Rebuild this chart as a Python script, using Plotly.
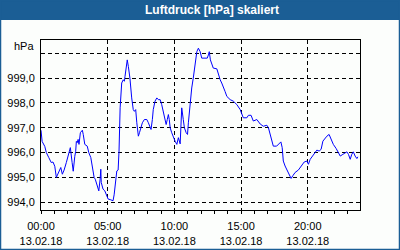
import pandas as pd
import plotly.graph_objects as go

# minutes after midnight on 13.02.18
minutes = [0, 5, 17, 24, 35, 46, 54, 62, 69, 80, 89, 96, 104, 114, 125, 132, 140, 145, 152, 156,
           159, 163, 167, 171, 177, 186, 190, 197, 208, 215, 224, 230, 239, 244, 253, 260, 266, 269,
           271, 279, 287, 294, 302, 314, 324, 329, 334, 341, 347, 351, 356, 360, 363, 370, 375, 378,
           383, 388, 393, 400, 408, 415, 420, 426, 431, 438, 443, 449, 456, 465, 476, 483, 491, 495,
           501, 505, 513, 521, 528, 536, 543, 550, 558, 563, 568, 573, 577, 581, 588, 595, 603, 611,
           618, 626, 633, 640, 645, 653, 659, 663, 671, 678, 685, 693, 701, 708, 716, 723, 738, 748,
           753, 757, 762, 768, 775, 791, 798, 806, 813, 820, 828, 836, 843, 851, 865, 881, 896, 903,
           910, 926, 933, 945, 955, 971, 986, 1000, 1016, 1023, 1031, 1038, 1045, 1060, 1072, 1079,
           1085, 1090, 1098, 1106, 1113, 1125, 1133, 1143, 1158, 1166, 1173, 1184, 1196, 1203, 1211,
           1221, 1230, 1241, 1251, 1260, 1268, 1278, 1286, 1296, 1304, 1315, 1328, 1338, 1346, 1358,
           1368, 1376, 1383, 1391, 1398, 1405, 1413, 1421, 1425]
pressure = [996.9, 996.45, 996.25, 996.0, 995.8, 995.6, 995.62, 995.45, 995.0, 995.2, 995.4, 995.13,
            995.3, 995.6, 996.05, 996.2, 995.6, 995.25, 995.85, 996.05, 996.45, 996.4, 996.53, 996.33,
            996.8, 996.9, 996.73, 996.33, 996.26, 996.0, 995.8, 995.46, 995.0, 994.93, 994.6, 994.46,
            994.93, 995.33, 994.8, 994.53, 994.46, 994.26, 994.13, 994.1, 994.06, 994.3, 994.8, 995.26,
            995.3, 996.06, 997.8, 998.66, 998.8, 998.93, 998.87, 999.07, 999.4, 999.73, 999.46, 999.0,
            998.2, 997.73, 997.66, 997.73, 997.2, 996.66, 996.8, 997.0, 997.2, 997.33, 997.33, 997.2,
            997.0, 996.93, 997.33, 997.73, 998.07, 998.2, 998.13, 998.13, 997.93, 997.6, 997.33,
            997.13, 997.33, 997.53, 997.33, 997.0, 996.8, 996.6, 996.46, 996.33, 996.6, 996.35, 997.8,
            997.33, 997.0, 996.8, 996.73, 997.2, 998.07, 998.6, 999.0, 999.6, 1000.06, 1000.2, 1000.06,
            999.8, 999.8, 999.8, 999.93, 1000.06, 999.73, 999.53, 999.4, 999.37, 999.13, 998.93, 998.8,
            998.66, 998.46, 998.26, 998.2, 998.13, 998.07, 997.93, 997.73, 997.53, 997.4, 997.4, 997.5,
            997.5, 997.27, 997.33, 997.15, 997.06, 997.1, 997.0, 996.73, 996.46, 996.26, 996.26, 996.36,
            996.43, 996.2, 995.66, 995.46, 995.33, 995.2, 994.96, 995.07, 995.2, 995.3, 995.4, 995.53,
            995.62, 995.66, 995.53, 995.73, 995.86, 996.0, 996.1, 996.06, 996.13, 996.46, 996.6, 996.66,
            996.73, 996.53, 996.33, 996.16, 996.0, 995.86, 995.93, 996.0, 996.03, 995.93, 995.73,
            995.93, 996.03, 995.86, 995.76, 995.83]

x_tick_hours = [0, 5, 10, 15, 20]
x_tick_labels = ["00:00<br>13.02.18", "05:00<br>13.02.18", "10:00<br>13.02.18",
                 "15:00<br>13.02.18", "20:00<br>13.02.18"]
y_tick_vals = [994, 995, 996, 997, 998, 999, 1000]
y_tick_labels = ["994,0", "995,0", "996,0", "997,0", "998,0", "999,0", ""]

title_text = "Luftdruck [hPa] skaliert"
unit_text = "hPa"

day = pd.Timestamp("2018-02-13")
times = day + pd.to_timedelta(minutes, unit="m")
tickvals_x = [day + pd.Timedelta(hours=h) for h in x_tick_hours]

W, H = 400, 250
ML, MR, MT, MB = 41, 40, 40, 40
PW, PH = W - ML - MR, H - MT - MB
BLUE = "#1b5e95"
FONT = "Liberation Sans"

def px_x(p):
    return (p - ML) / PW

def px_y(p):
    return (H - MB - p) / PH

fig = go.Figure()
fig.add_trace(go.Scatter(x=times, y=pressure, mode="lines",
                         line=dict(color="#0000ff", width=1), hoverinfo="skip"))

fig.update_layout(
    width=W, height=H,
    margin=dict(l=ML, r=MR, t=MT, b=MB, autoexpand=False),
    paper_bgcolor="#fcfefc", plot_bgcolor="#fcfefc",
    showlegend=False,
    font=dict(family=FONT, size=11, color="black"),
    separators=",.",
)
fig.update_xaxes(
    automargin=False,
    range=[day, day + pd.Timedelta(minutes=1435)],
    tickmode="array", tickvals=tickvals_x, ticktext=x_tick_labels,
    ticks="outside", ticklen=3, tickcolor="black", ticklabelstandoff=3,
    minor=dict(dtick=3600000, tick0=day, ticks="outside", ticklen=3, tickcolor="black", showgrid=False),
    showgrid=True, gridcolor="black", gridwidth=1, griddash="4px,3px",
    showline=True, linecolor="black", linewidth=1, mirror=True,
    zeroline=False, tickfont=dict(family=FONT, size=11, color="black"),
)
fig.update_yaxes(
    automargin=False,
    range=[993.69, 1000.53],
    tickmode="array", tickvals=y_tick_vals, ticktext=y_tick_labels,
    ticks="", ticklabelstandoff=3,
    showgrid=True, gridcolor="black", gridwidth=1, griddash="4px,3px",
    showline=True, linecolor="black", linewidth=1, mirror=True,
    zeroline=False, tickfont=dict(family=FONT, size=11, color="black"),
)

# title bar
fig.add_shape(type="rect", xref="paper", yref="paper",
              x0=px_x(0), x1=px_x(W), y0=px_y(20), y1=px_y(0),
              fillcolor=BLUE, line=dict(width=0), layer="above")
# outer border
fig.add_shape(type="rect", xref="paper", yref="paper",
              x0=px_x(0.5), x1=px_x(W - 0.5), y0=px_y(H - 0.5), y1=px_y(0.5),
              line=dict(color=BLUE, width=1.5), fillcolor="rgba(0,0,0,0)", layer="above")

fig.add_annotation(text="<b>" + title_text + "</b>", xref="paper", yref="paper",
                   x=px_x(212), y=px_y(10), xanchor="center", yanchor="middle",
                   showarrow=False, font=dict(family=FONT, size=12, color="white"))
fig.add_annotation(text=unit_text, xref="paper", yref="paper",
                   x=px_x(36), y=px_y(46), xanchor="right", yanchor="middle",
                   showarrow=False, font=dict(family=FONT, size=11, color="black"))

fig.write_html("out.html")
